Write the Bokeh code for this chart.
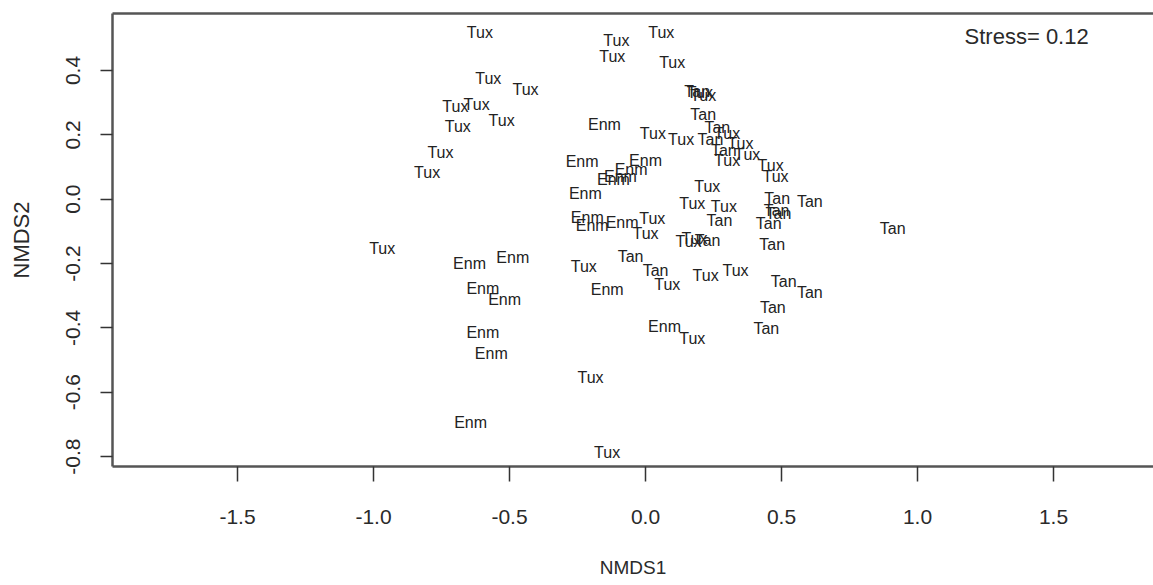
from bokeh.plotting import figure
from bokeh.models import Range1d, FixedTicker, PrintfTickFormatter, LinearAxis, Label, ColumnDataSource
from bokeh.core.properties import value
from bokeh.embed import file_html
from bokeh.resources import INLINE

# ---- data (NMDS scores) ----
tux_x = [-0.609, -0.107, 0.058, -0.122, 0.098, -0.578, -0.441, -0.699, -0.621, -0.690,
         -0.529, -0.754, -0.803, 0.200, 0.212, 0.027, 0.131, 0.300, 0.349, 0.300,
         0.374, 0.460, 0.478, 0.227, 0.172, 0.288, 0.025, 0.000, 0.158, 0.180,
         -0.968, -0.227, 0.080, 0.221, 0.331, 0.172, -0.202, -0.141]
tux_y = [0.519, 0.494, 0.519, 0.445, 0.424, 0.376, 0.341, 0.289, 0.294, 0.227,
         0.245, 0.146, 0.084, 0.331, 0.322, 0.203, 0.186, 0.203, 0.172, 0.120,
         0.138, 0.105, 0.071, 0.040, -0.012, -0.023, -0.061, -0.108, -0.131, -0.122,
         -0.152, -0.208, -0.266, -0.237, -0.222, -0.434, -0.553, -0.786]

enm_x = [-0.151, -0.233, 0.000, -0.053, -0.118, -0.092, -0.221, -0.214, -0.196, -0.086,
         -0.647, -0.488, -0.598, -0.518, -0.141, -0.598, -0.567, 0.070, -0.643]
enm_y = [0.232, 0.118, 0.120, 0.092, 0.061, 0.071, 0.017, -0.056, -0.082, -0.071,
         -0.201, -0.182, -0.277, -0.312, -0.281, -0.415, -0.481, -0.395, -0.693]

tan_x = [0.190, 0.212, 0.264, 0.239, 0.288, 0.484, 0.604, 0.482, 0.489, 0.453,
         0.272, 0.909, 0.228, 0.466, -0.055, 0.037, 0.508, 0.604, 0.468, 0.444]
tan_y = [0.335, 0.263, 0.224, 0.186, 0.151, 0.001, -0.007, -0.035, -0.044, -0.076,
         -0.066, -0.092, -0.128, -0.141, -0.178, -0.222, -0.256, -0.289, -0.338, -0.403]

x_ticks = [-1.5, -1.0, -0.5, 0.0, 0.5, 1.0, 1.5]
y_ticks = [-0.8, -0.6, -0.4, -0.2, 0.0, 0.2, 0.4]
stress_text = "Stress= 0.12"
stress_x, stress_y = 1.173, 0.506

labels = (["Tux"] * len(tux_x)) + (["Enm"] * len(enm_x)) + (["Tan"] * len(tan_x))
src = ColumnDataSource(dict(x=tux_x + enm_x + tan_x, y=tux_y + enm_y + tan_y, t=labels))

AX = "#555555"
TXT = "#2a2a2a"
FONT = "Liberation Sans"

p = figure(width=1153, height=585,
           x_range=Range1d(-1.9596, 1.8676), y_range=Range1d(-0.8309, 0.5772),
           output_backend="svg", toolbar_location=None,
           min_border_left=112, min_border_right=0, min_border_top=13, min_border_bottom=119,
           x_axis_label="NMDS1", y_axis_label="NMDS2")
p.grid.visible = False
p.outline_line_color = None
p.background_fill_color = "white"
p.border_fill_color = "white"

# x axis
xa = p.xaxis[0]
xa.ticker = FixedTicker(ticks=x_ticks)
xa.formatter = PrintfTickFormatter(format="%.1f")
xa.minor_tick_line_color = None
xa.axis_line_color = AX
xa.axis_line_width = 2.5
xa.major_tick_line_color = "#333333"
xa.major_tick_line_width = 1.5
xa.major_tick_in = 0
xa.major_tick_out = 15
xa.major_label_standoff = 28
xa.major_label_text_font = FONT
xa.major_label_text_font_size = "21px"
xa.major_label_text_color = TXT
xa.axis_label_standoff = 30
xa.axis_label_text_font = FONT
xa.axis_label_text_font_size = "19px"
xa.axis_label_text_font_style = "normal"
xa.axis_label_text_color = TXT

# y axis
ya = p.yaxis[0]
ya.ticker = FixedTicker(ticks=y_ticks)
ya.formatter = PrintfTickFormatter(format="%.1f")
ya.minor_tick_line_color = None
ya.axis_line_color = AX
ya.axis_line_width = 2.5
ya.major_tick_line_color = "#333333"
ya.major_tick_line_width = 1.5
ya.major_tick_in = 0
ya.major_tick_out = 12
ya.major_label_orientation = "vertical"
ya.major_label_standoff = 20
ya.major_label_text_font = FONT
ya.major_label_text_font_size = "21px"
ya.major_label_text_color = TXT
ya.axis_label_standoff = 30
ya.axis_label_text_font = FONT
ya.axis_label_text_font_size = "22px"
ya.axis_label_text_font_style = "normal"
ya.axis_label_text_color = TXT

# top frame line (box cut at right edge)
top = LinearAxis(ticker=FixedTicker(ticks=[]), major_label_text_font_size="0px",
                 axis_line_color=AX, axis_line_width=2.5,
                 major_tick_line_color=None, minor_tick_line_color=None)
p.add_layout(top, "above")

p.text(x="x", y="y", text="t", source=src, text_align="center", text_baseline="middle",
       text_font=value(FONT), text_font_size="16px", text_color="#222222")

p.add_layout(Label(x=stress_x, y=stress_y, text=stress_text, text_font=FONT,
                   text_font_size="22px", text_color=TXT, text_align="left",
                   text_baseline="alphabetic"))

open("out.html", "w").write(file_html(p, INLINE))
